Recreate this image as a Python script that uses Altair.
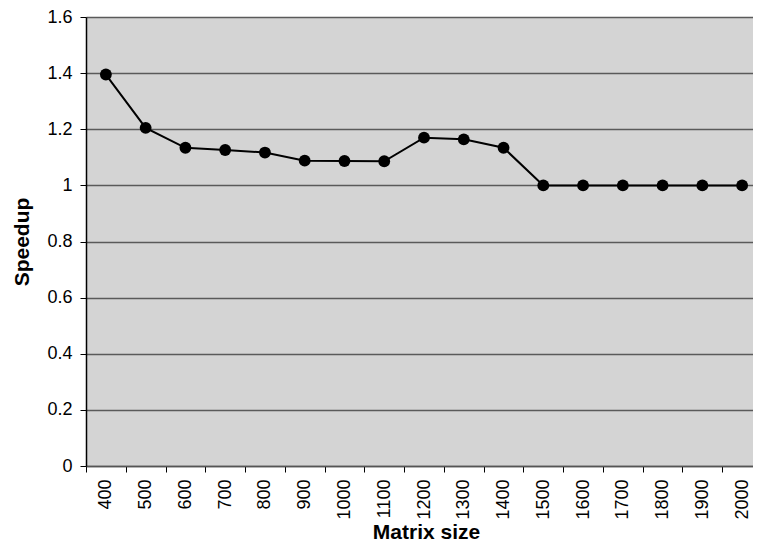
import altair as alt
import pandas as pd

sizes = ["400", "500", "600", "700", "800", "900", "1000", "1100", "1200",
         "1300", "1400", "1500", "1600", "1700", "1800", "1900", "2000"]
speedup = [1.395, 1.205, 1.134, 1.126, 1.117, 1.088, 1.087, 1.086, 1.170,
           1.164, 1.134, 1.0, 1.0, 1.0, 1.0, 1.0, 1.0]

df = pd.DataFrame({"size": sizes, "speedup": speedup})

x = alt.X("size:N", sort=sizes, title="Matrix size",
          scale=alt.Scale(paddingInner=0, paddingOuter=0, range=[0, 676]),
          axis=alt.Axis(labelAngle=-90, labelFontSize=18, labelFont="Liberation Sans",
                        labelColor="black", labelPadding=7, tickBand="extent",
                        tickColor="black", tickSize=6, domainColor="#555555",
                        domainWidth=1.5,
                        titleFont="Liberation Sans", titleFontSize=21, titleFontWeight="bold",
                        titleColor="black", titlePadding=2, titleX=340, grid=False))
y = alt.Y("speedup:Q", title="Speedup",
          scale=alt.Scale(domain=[0, 1.6], nice=False),
          axis=alt.Axis(values=[0, 0.2, 0.4, 0.6, 0.8, 1.0, 1.2, 1.4, 1.6],
                        labelExpr="datum.value == 0 || datum.value == 1 ? format(datum.value, 'd') : format(datum.value, '.1f')",
                        labelFontSize=18, labelFont="Liberation Sans", labelColor="black",
                        labelPadding=8, tickColor="black", tickSize=6, domainColor="black",
                        domainWidth=1.5,
                        titleFont="Liberation Sans", titleFontSize=21, titleFontWeight="bold",
                        titleColor="black", titlePadding=14,
                        grid=True, gridColor="#5a5a5a", gridWidth=1.5, gridOpacity=1))

base = alt.Chart(df).encode(x=x, y=y)
line = base.mark_line(color="black", strokeWidth=2)
pts = base.mark_circle(color="black", size=140, opacity=1)

chart = (line + pts).properties(
    width=667, height=449,
    autosize=alt.AutoSizeParams(type="none"),
    padding={"left": 78, "top": 9, "right": 0, "bottom": 79},
).configure_view(fill="#d4d4d4", stroke=None)

chart.save("out.html", embed_options={"renderer": "svg", "actions": False})
